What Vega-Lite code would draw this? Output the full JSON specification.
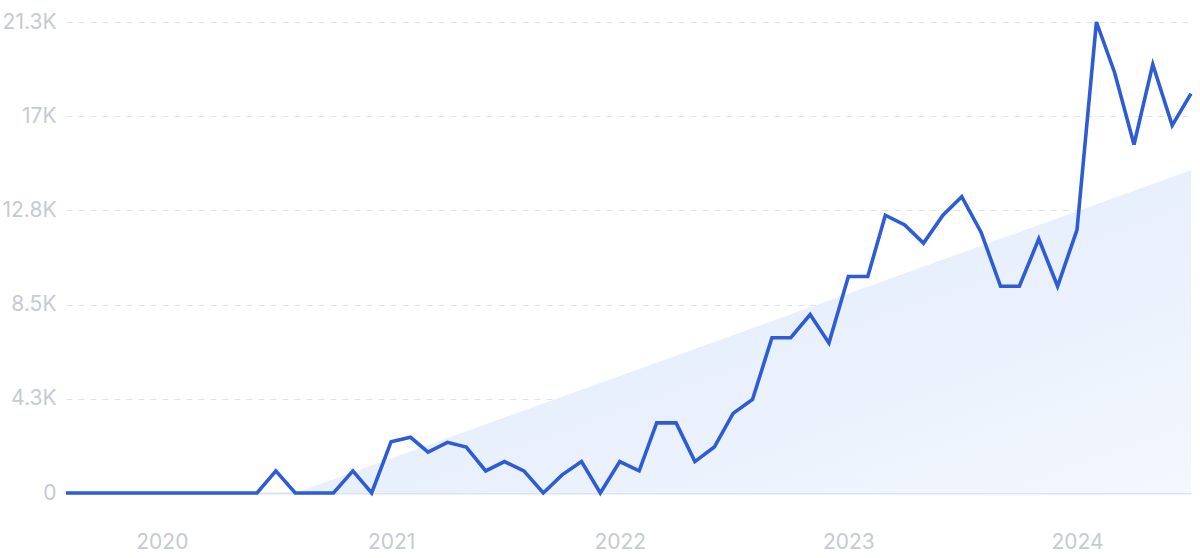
{
  "$schema": "https://vega.github.io/schema/vega-lite/v6.json",
  "autosize": {"type": "none"},
  "width": 1125,
  "height": 471,
  "padding": {"left": 66, "top": 22, "right": 9, "bottom": 65},
  "background": "#ffffff",
  "config": {"view": {"stroke": null}},
  "datasets": {
    "series": [
      {"date": "2019-08-01", "value": 0},
      {"date": "2019-09-01", "value": 0},
      {"date": "2019-10-01", "value": 0},
      {"date": "2019-11-01", "value": 0},
      {"date": "2019-12-01", "value": 0},
      {"date": "2020-01-01", "value": 0},
      {"date": "2020-02-01", "value": 0},
      {"date": "2020-03-01", "value": 0},
      {"date": "2020-04-01", "value": 0},
      {"date": "2020-05-01", "value": 0},
      {"date": "2020-06-01", "value": 0},
      {"date": "2020-07-01", "value": 1000},
      {"date": "2020-08-01", "value": 0},
      {"date": "2020-09-01", "value": 0},
      {"date": "2020-10-01", "value": 0},
      {"date": "2020-11-01", "value": 1000},
      {"date": "2020-12-01", "value": 0},
      {"date": "2021-01-01", "value": 2320},
      {"date": "2021-02-01", "value": 2520},
      {"date": "2021-03-01", "value": 1850},
      {"date": "2021-04-01", "value": 2290},
      {"date": "2021-05-01", "value": 2080},
      {"date": "2021-06-01", "value": 1000},
      {"date": "2021-07-01", "value": 1420},
      {"date": "2021-08-01", "value": 1000},
      {"date": "2021-09-01", "value": 0},
      {"date": "2021-10-01", "value": 820},
      {"date": "2021-11-01", "value": 1420},
      {"date": "2021-12-01", "value": 0},
      {"date": "2022-01-01", "value": 1420},
      {"date": "2022-02-01", "value": 1000},
      {"date": "2022-03-01", "value": 3170},
      {"date": "2022-04-01", "value": 3170},
      {"date": "2022-05-01", "value": 1420},
      {"date": "2022-06-01", "value": 2080},
      {"date": "2022-07-01", "value": 3600},
      {"date": "2022-08-01", "value": 4230},
      {"date": "2022-09-01", "value": 7020},
      {"date": "2022-10-01", "value": 7020},
      {"date": "2022-11-01", "value": 8070},
      {"date": "2022-12-01", "value": 6780},
      {"date": "2023-01-01", "value": 9790},
      {"date": "2023-02-01", "value": 9790},
      {"date": "2023-03-01", "value": 12560},
      {"date": "2023-04-01", "value": 12120},
      {"date": "2023-05-01", "value": 11300},
      {"date": "2023-06-01", "value": 12560},
      {"date": "2023-07-01", "value": 13400},
      {"date": "2023-08-01", "value": 11780},
      {"date": "2023-09-01", "value": 9350},
      {"date": "2023-10-01", "value": 9350},
      {"date": "2023-11-01", "value": 11490},
      {"date": "2023-12-01", "value": 9350},
      {"date": "2024-01-01", "value": 11900},
      {"date": "2024-02-01", "value": 21300},
      {"date": "2024-03-01", "value": 19020},
      {"date": "2024-04-01", "value": 15760},
      {"date": "2024-05-01", "value": 19380},
      {"date": "2024-06-01", "value": 16620},
      {"date": "2024-07-01", "value": 18060}
    ],
    "trend": [
      {"date": "2020-08-01", "value": 0},
      {"date": "2024-07-01", "value": 14600}
    ]
  },
  "layer": [
    {
      "data": {"name": "trend"},
      "mark": {
        "type": "area",
        "line": false,
        "color": {
          "gradient": "linear",
          "x1": 0, "y1": 0, "x2": 1, "y2": 1,
          "stops": [
            {"offset": 0, "color": "#dce8fa"},
            {"offset": 1, "color": "#f3f7fe"}
          ]
        }
      },
      "encoding": {
        "x": {"field": "date", "type": "temporal"},
        "y": {"field": "value", "type": "quantitative"}
      }
    },
    {
      "data": {"name": "series"},
      "mark": {"type": "line", "color": "#2d5cd5", "strokeWidth": 3.6, "strokeJoin": "miter"},
      "encoding": {
        "x": {
          "field": "date",
          "type": "temporal",
          "scale": {"domain": ["2019-08-01", "2024-07-01"], "nice": false},
          "axis": {
            "title": null,
            "values": [
              {"year": 2020, "month": 1, "date": 1},
              {"year": 2021, "month": 1, "date": 1},
              {"year": 2022, "month": 1, "date": 1},
              {"year": 2023, "month": 1, "date": 1},
              {"year": 2024, "month": 1, "date": 1}
            ],
            "format": "%Y",
            "grid": false,
            "ticks": false,
            "domain": true,
            "domainColor": "#d9e3f6",
            "domainWidth": 2,
            "labelPadding": 38,
            "labelFont": "Inter",
            "labelFontSize": 21,
            "labelColor": "#c6cad2",
            "labelFontWeight": "normal"
          }
        },
        "y": {
          "field": "value",
          "type": "quantitative",
          "scale": {"domain": [0, 21300], "nice": false, "zero": true},
          "axis": {
            "title": null,
            "values": [0, 4260, 8520, 12780, 17040, 21300],
            "labelExpr": "datum.value == 0 ? '0' : format(datum.value / 1000, '.1~f') + 'K'",
            "grid": true,
            "gridColor": "#dce3ef",
            "gridDash": [6, 6],
            "gridWidth": 1,
            "domain": false,
            "ticks": false,
            "labelPadding": 10,
            "labelFont": "Inter",
            "labelFontSize": 21,
            "labelColor": "#c6cad2"
          }
        }
      }
    }
  ]
}
